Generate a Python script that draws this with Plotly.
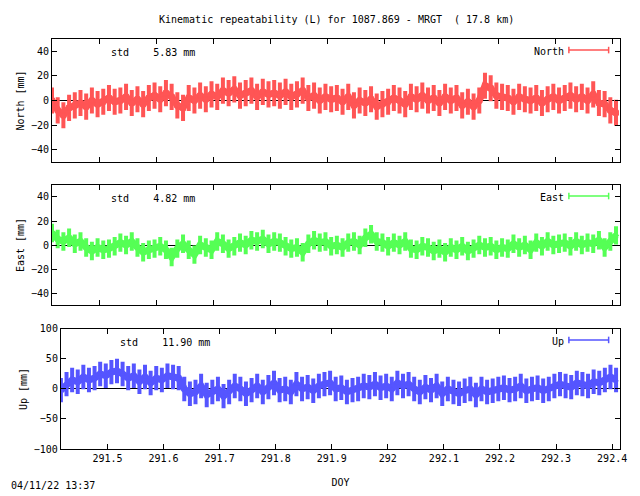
import plotly.graph_objects as go

x = [291.417 + 0.01 * i for i in range(100)]
north = [0,-8,-12,-6,-4,-2,-5,0,-3,-1, 2,-1,0,3,-2,1,-3,2,4,1, 6,3,-4,-6,2,0,4,1,5,3,
         8,6,9,4,6,8,3,7,5,6, 4,7,3,5,8,2,4,0,3,1, 2,-1,3,-4,0,-2,1,-5,-3,-1,
         2,0,-3,3,1,4,0,2,-2,3, 0,2,-4,-1,-5,0,12,10,4,3, 2,-1,3,1,0,2,-2,1,3,0,
         2,4,1,3,0,5,-2,-3,-8,-10]
east = [10,5,3,6,1,3,-2,-5,-2,-4, -3,-1,2,0,3,-2,-6,-4,-3,-1, -4,-10,-3,1,-4,-8,0,-2,-4,3,
        1,-3,-1,2,0,4,3,5,1,3, 2,-1,-3,-2,-6,1,4,2,3,-1, 0,-2,2,3,0,6,9,3,2,-1,
        2,0,3,-3,-4,-1,-2,-5,-3,-6, -2,-4,-1,-5,-3,0,-2,-1,-4,-2, -3,1,-2,0,-4,2,-1,3,0,1,
        2,-1,3,0,2,1,4,-2,3,8]
up = [-2,8,15,12,20,15,18,25,22,28, 30,25,18,22,12,20,10,18,15,22, 20,18,0,-8,-5,5,-10,-5,0,-12,
      -5,5,0,-8,-2,5,-5,3,10,-2, 0,-5,8,0,3,-3,5,8,10,0, 2,-5,-2,0,5,3,8,2,5,0,
      10,5,8,0,-5,3,-2,5,-8,0, -5,-8,-3,0,-10,0,-5,-3,0,2, -2,0,5,-3,0,2,-3,0,5,8,
      5,3,10,8,5,12,10,15,20,15]
err = {"north": 9, "east": 6, "up": 17}
names = ["North", "East", "Up"]
stds = ["5.83", "4.82", "11.90"]
colors = ["#ff5555", "#55ff55", "#5555ff"]
symbols = ["square-open", "diamond", "triangle-up"]

F = "DejaVu Sans Mono"
fig = go.Figure()
series = [north, east, up]
errs = [err["north"], err["east"], err["up"]]
for k in range(3):
    ax = "" if k == 0 else str(k + 1)
    fig.add_trace(go.Scatter(x=x, y=series[k], mode="lines+markers", xaxis="x" + ax, yaxis="y" + ax,
                             line=dict(color=colors[k], width=7),
                             marker=dict(symbol=symbols[k], size=5, color=colors[k]),
                             error_y=dict(type="constant", value=errs[k], color=colors[k], thickness=4, width=2),
                             showlegend=False))

doms = [[0.7, 1.0], [0.351, 0.644], [0.0, 0.293]]
xdoms = [[0, 1], [0, 1], [0.0157, 1]]
yr = [[-50, 50], [-50, 50], [-100, 100]]
ydt = [20, 20, 50]
ytitles = ["North [mm]", "East [mm]", "Up [mm]"]
common = dict(showgrid=False, zeroline=False, showline=True, linecolor="black", linewidth=1,
              mirror="ticks", ticks="inside", ticklen=5, tickcolor="black",
              tickfont=dict(family=F, size=10, color="black"))
for k in range(3):
    ax = "" if k == 0 else str(k + 1)
    fig.update_layout(**{
        "xaxis" + ax: dict(common, domain=xdoms[k], range=[291.417, 292.414], dtick=0.1, tick0=291.5,
                           anchor="y" + ax, showticklabels=(k == 2),
                           title=dict(text="DOY" if k == 2 else "", font=dict(family=F, size=10, color="black"))),
        "yaxis" + ax: dict(common, domain=doms[k], range=yr[k], dtick=ydt[k], anchor="x" + ax,
                           zeroline=True, zerolinecolor="black", zerolinewidth=1,
                           title=dict(text=ytitles[k], font=dict(family=F, size=10, color="black"), standoff=4)),
    })
    top = doms[k][1]
    fig.add_annotation(xref="paper", yref="paper", x=0.1 + xdoms[k][0], y=top - 0.015,
                       text="std    %s mm" % stds[k], showarrow=False, xanchor="left", yanchor="top",
                       font=dict(family=F, size=10, color="black"))
    fig.add_annotation(xref="paper", yref="paper", x=0.905, y=top - 0.012,
                       text=names[k], showarrow=False, xanchor="right", yanchor="top",
                       font=dict(family=F, size=10, color="black"))
    ly = top - 0.027
    fig.add_shape(type="line", xref="paper", yref="paper", x0=0.91, x1=0.98, y0=ly, y1=ly,
                  line=dict(color=colors[k], width=1.5))
    for xx in (0.91, 0.98):
        fig.add_shape(type="line", xref="paper", yref="paper", x0=xx, x1=xx, y0=ly - 0.008, y1=ly + 0.008,
                      line=dict(color=colors[k], width=1.5))

fig.add_annotation(xref="paper", yref="paper", x=0.5, y=1.03, yanchor="bottom", showarrow=False,
                   text="Kinematic repeatability (L) for 1087.869 - MRGT  ( 17.8 km)",
                   font=dict(family=F, size=10, color="black"))
fig.add_annotation(xref="paper", yref="paper", x=-0.075, y=-0.088, xanchor="left", yanchor="middle",
                   showarrow=False, text="04/11/22 13:37", font=dict(family=F, size=10, color="black"))
fig.update_layout(width=640, height=496, margin=dict(l=40, r=28, t=31, b=55),
                  plot_bgcolor="white", paper_bgcolor="white")
fig.write_html("out.html")
